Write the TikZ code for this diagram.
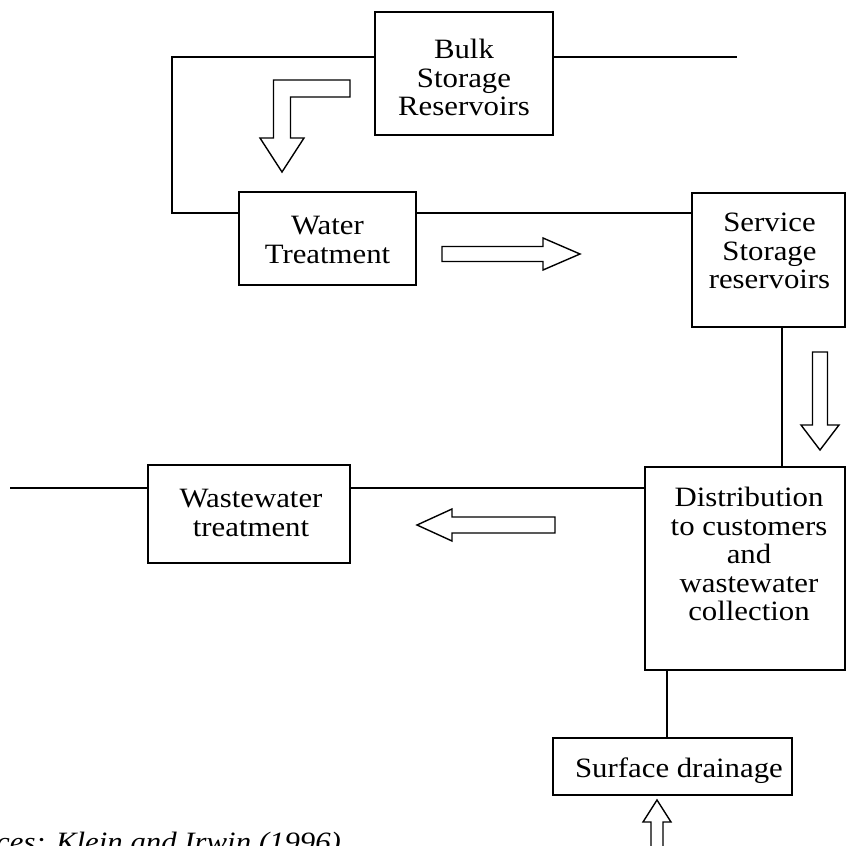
\documentclass[tikz,border=0pt]{standalone}
\usepackage{fontspec}
\setmainfont[FakeStretch=1.1]{Liberation Serif}
\tikzset{
  box/.style={draw, line width=1.4pt, inner sep=0pt},
  txt/.style={inner sep=0pt, align=center, font=\fontsize{28}{28.5}\selectfont},
  conn/.style={line width=1.4pt},
  barrow/.style={draw, line width=1.4pt, fill=white, line join=miter},
}
\begin{document}
\begin{tikzpicture}[x=1pt,y=-1pt]
\useasboundingbox (0,0) rectangle (847,846);
\clip (0,0) rectangle (847,846);
\fill[white] (0,0) rectangle (847,846);
% boxes
\node[box, minimum width=178pt, minimum height=123pt] (bulk) at (464,73.5) {};
\node[box, minimum width=177pt, minimum height=93pt] (wt) at (327.5,238.5) {};
\node[box, minimum width=153pt, minimum height=134pt] (svc) at (768.5,260) {};
\node[box, minimum width=200pt, minimum height=203pt] (dist) at (745,568.5) {};
\node[box, minimum width=202pt, minimum height=98pt] (ww) at (249,514) {};
\node[box, minimum width=239pt, minimum height=57pt] (sd) at (672.5,766.5) {};
% texts
\node[txt] (bulkT) at (464,77.5) {Bulk\\Storage\\Reservoirs};
\node[txt] (wtT) at (327.5,240) {Water\\Treatment};
\node[txt] (svcT) at (769.5,251) {Service\\Storage\\reservoirs};
\node[txt] (distT) at (749,554) {Distribution\\to customers\\and\\wastewater\\collection};
\node[txt] (wwT) at (251,513) {Wastewater\\treatment};
\node[txt] (sdT) at (679,771) {Surface drainage};
% connector coordinates
\coordinate (topR) at (737,57);
\coordinate (loopA) at (172,57);
\coordinate (loopB) at (172,213);
\coordinate (v1) at (782,0);
\coordinate (h) at (10,488);
\coordinate (v2) at (667,0);
% connectors
\draw[conn] (bulk.east |- topR) -- (topR);
\draw[conn] (bulk.west |- loopA) -- (loopA) -- (loopB) -- (wt.west |- loopB);
\draw[conn] (wt.east |- loopB) -- (svc.west |- loopB);
\draw[conn] (svc.south -| v1) -- (dist.north -| v1);
\draw[conn] (h) -- (ww.west |- h);
\draw[conn] (ww.east |- h) -- (dist.west |- h);
\draw[conn] (dist.south -| v2) -- (sd.north -| v2);
% block arrows
\draw[barrow] (350,80) -- (273.5,80) -- (273.5,138) -- (260,138) -- (282,172) -- (304,138) -- (290.5,138) -- (290.5,97) -- (350,97) -- cycle;
\draw[barrow] (442,246.5) -- (543,246.5) -- (543,238) -- (580,254) -- (543,270) -- (543,261.5) -- (442,261.5) -- cycle;
\draw[barrow] (812.5,352) -- (827.5,352) -- (827.5,425) -- (839,425) -- (820,450) -- (801,425) -- (812.5,425) -- cycle;
\draw[barrow] (555,517) -- (452,517) -- (452,509) -- (417,525) -- (452,541) -- (452,533) -- (555,533) -- cycle;
\draw[barrow] (651,860) -- (651,822) -- (643,822) -- (657,800) -- (671,822) -- (663,822) -- (663,860) -- cycle;
% source
\node[anchor=base west, inner sep=0pt, font=\itshape\fontsize{28}{30}\selectfont] (src) at (-61,851) {Sources: Klein and Irwin (1996)};
\end{tikzpicture}
\end{document}
